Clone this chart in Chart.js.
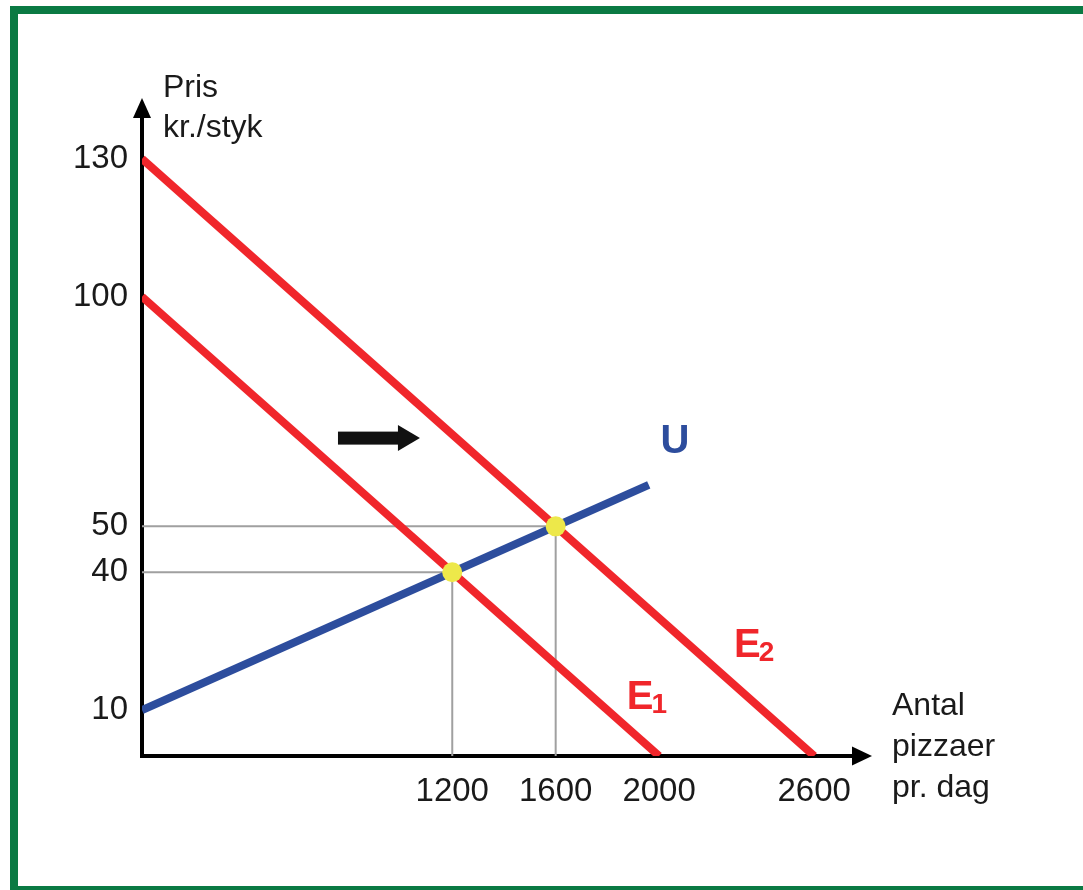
<!DOCTYPE html>
<html><head><meta charset="utf-8">
<script src="https://cdn.jsdelivr.net/npm/chart.js@4/dist/chart.umd.min.js"></script>
<style>html,body{margin:0;padding:0;background:#fff;overflow:hidden}</style>
</head><body>
<canvas id="c" width="1083" height="890"></canvas>
<script>
// ---- data ----
const xTickValues = [1200, 1600, 2000, 2600];
const yTickValues = [10, 40, 50, 100, 130];
const demandE1 = [{x: 0, y: 100}, {x: 2000, y: 0}];
const demandE2 = [{x: 0, y: 130}, {x: 2600, y: 0}];
const supplyU  = [{x: 0, y: 10}, {x: 1960, y: 59}];
const equilibria = [{x: 1200, y: 40}, {x: 1600, y: 50}];
const yTitleLines = ['Pris', 'kr./styk'];
const xTitleLines = ['Antal', 'pizzaer', 'pr. dag'];
const curveLabels = [
  {main: 'U', sub: '', x: 2005, y: 66},
  {main: 'E', sub: '1', x: 1875, y: 10.3},
  {main: 'E', sub: '2', x: 2290, y: 21.6}
];
const shiftArrow = {from: 758, to: 1075, level: 69.2};

// ---- styles ----
const FONT = "'Liberation Sans', Arial, Helvetica, sans-serif";
const RED = '#f0262b', BLUE = '#2d4d9d', YELLOW = '#ede84a', GUIDE = '#a0a0a0', GREEN = '#0a7a43';

const guideSets = equilibria.map(p => ({
  data: [{x: 0, y: p.y}, {x: p.x, y: p.y}, {x: p.x, y: 0}],
  showLine: true, borderColor: GUIDE, borderWidth: 2, pointRadius: 0, fill: false
}));

const decor = {
  id: 'decor',
  beforeDraw(chart) {
    const ctx = chart.ctx;
    ctx.save();
    ctx.fillStyle = '#fff';
    ctx.fillRect(0, 0, chart.width, chart.height);
    ctx.fillStyle = GREEN;
    ctx.fillRect(10, 6, chart.width, 8);     // top
    ctx.fillRect(10, 6, 8, chart.height);    // left
    ctx.fillRect(10, 886, chart.width, 8);   // bottom
    ctx.restore();
  },
  afterDraw(chart) {
    const {ctx, chartArea: a, scales: {x, y}} = chart;
    ctx.save();
    ctx.fillStyle = '#000';
    // y axis arrowhead
    ctx.beginPath();
    ctx.moveTo(a.left, a.top - 19);
    ctx.lineTo(a.left - 9, a.top + 1);
    ctx.lineTo(a.left + 9, a.top + 1);
    ctx.closePath(); ctx.fill();
    // x axis arrowhead
    ctx.beginPath();
    ctx.moveTo(a.right + 19, a.bottom);
    ctx.lineTo(a.right - 1, a.bottom - 9.5);
    ctx.lineTo(a.right - 1, a.bottom + 9.5);
    ctx.closePath(); ctx.fill();
    // shift arrow
    const x0 = x.getPixelForValue(shiftArrow.from);
    const x1 = x.getPixelForValue(shiftArrow.to);
    const yy = y.getPixelForValue(shiftArrow.level);
    ctx.fillStyle = '#111';
    ctx.fillRect(x0, yy - 6.5, (x1 - 22) - x0 + 1, 13);
    ctx.beginPath();
    ctx.moveTo(x1, yy);
    ctx.lineTo(x1 - 22, yy - 13);
    ctx.lineTo(x1 - 22, yy + 13);
    ctx.closePath(); ctx.fill();
    // axis titles
    ctx.fillStyle = '#1a1a1a';
    ctx.font = '32px ' + FONT;
    ctx.textAlign = 'left';
    ctx.textBaseline = 'alphabetic';
    yTitleLines.forEach((t, i) => ctx.fillText(t, a.left + 21, a.top - 20 + i * 40));
    xTitleLines.forEach((t, i) => ctx.fillText(t, a.right + 39, a.bottom - 41 + i * 41));
    // curve labels
    curveLabels.forEach(l => {
      const px = x.getPixelForValue(l.x), py = y.getPixelForValue(l.y);
      ctx.fillStyle = l.main === 'U' ? BLUE : RED;
      ctx.font = 'bold 40px ' + FONT;
      ctx.fillText(l.main, px, py);
      if (l.sub) {
        const w = ctx.measureText(l.main).width;
        ctx.font = 'bold 28px ' + FONT;
        ctx.fillText(l.sub, px + w - 2, py + 4);
      }
    });
    ctx.restore();
  }
};

new Chart(document.getElementById('c'), {
  type: 'scatter',
  data: {
    datasets: [
      {data: equilibria, pointRadius: 10, pointHoverRadius: 10, backgroundColor: YELLOW, borderWidth: 0, showLine: false},
      {data: supplyU, showLine: true, borderColor: BLUE, borderWidth: 8, pointRadius: 0},
      {data: demandE1, showLine: true, borderColor: RED, borderWidth: 8, pointRadius: 0},
      {data: demandE2, showLine: true, borderColor: RED, borderWidth: 8, pointRadius: 0},
      ...guideSets
    ]
  },
  options: {
    responsive: false,
    animation: false,
    devicePixelRatio: 1,
    layout: {padding: {left: 40, top: 117, right: 230, bottom: 64}},
    plugins: {legend: {display: false}, tooltip: {enabled: false}},
    events: [],
    scales: {
      x: {
        type: 'linear', min: 0, max: 2750,
        grid: {display: false, drawTicks: false},
        border: {display: true, color: '#000', width: 4},
        afterBuildTicks: s => { s.ticks = xTickValues.map(v => ({value: v})); },
        afterFit: s => { s.height = 70; },
        ticks: {color: '#1a1a1a', font: {size: 33, family: FONT}, padding: 16, maxRotation: 0, autoSkip: false,
                callback: v => String(v)}
      },
      y: {
        type: 'linear', min: 0, max: 139.1,
        grid: {display: false, drawTicks: false},
        border: {display: true, color: '#000', width: 4},
        afterBuildTicks: s => { s.ticks = yTickValues.map(v => ({value: v})); },
        afterFit: s => { s.width = 102; },
        ticks: {color: '#1a1a1a', font: {size: 33, family: FONT}, padding: 14, autoSkip: false,
                callback: v => String(v)}
      }
    }
  },
  plugins: [decor]
});
</script>
</body></html>
